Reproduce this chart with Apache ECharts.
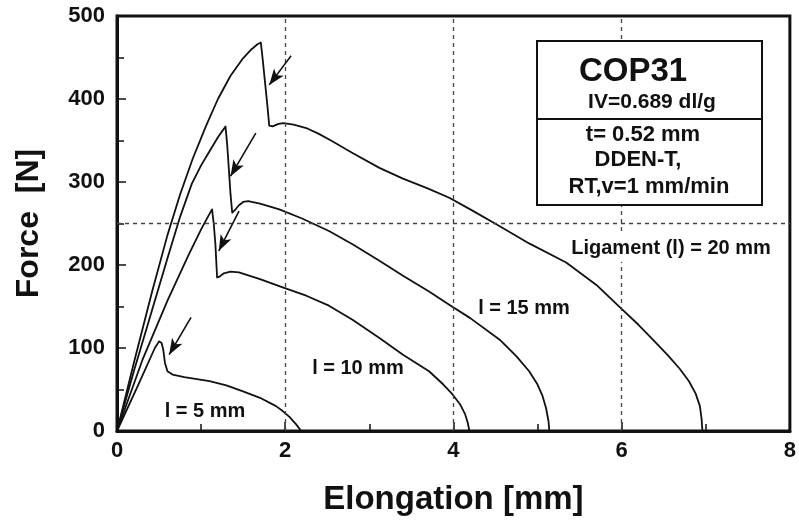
<!DOCTYPE html>
<html>
<head>
<meta charset="utf-8">
<script src="https://cdn.jsdelivr.net/npm/echarts@6/dist/echarts.min.js"></script>
<style>
  html, body { margin: 0; background: #fff; }
  #chart { width: 799px; height: 532px; }
</style>
</head>
<body>
<div id="chart"></div>
<script>
// force-elongation curves, [elongation mm, force N]
const curve5 = [[0,0],[0.25,55],[0.45,100],[0.5,108],[0.53,106],[0.55,98],[0.57,82],[0.6,72],[0.66,68],[0.8,65],[1.1,60],[1.3,55],[1.49,48],[1.7,40],[1.89,30],[1.97,24],[2.05,17],[2.13,8],[2.19,0]];
const curve10 = [[0,0],[0.3,85],[0.6,157],[0.85,212],[1.0,243],[1.08,258],[1.13,267],[1.15,250],[1.17,225],[1.18,205],[1.19,185],[1.22,186],[1.27,190],[1.35,192],[1.45,191],[1.7,183],[1.97,173],[2.25,163],[2.52,151],[2.8,134],[3.12,112],[3.4,92],[3.71,72],[3.88,56],[3.99,44],[4.08,32],[4.14,20],[4.17,10],[4.19,0]];
const curve15 = [[0,0],[0.2,72],[0.45,157],[0.6,208],[0.75,258],[0.89,298],[1.0,320],[1.1,337],[1.2,354],[1.27,364],[1.29,367],[1.31,345],[1.33,315],[1.35,285],[1.37,263],[1.4,266],[1.45,272],[1.5,276],[1.56,277],[1.7,274],[1.93,267],[2.2,256],[2.52,241],[2.8,225],[3.12,205],[3.4,187],[3.71,168],[3.95,152],[4.2,136],[4.55,110],[4.75,90],[4.9,72],[5.0,56],[5.06,42],[5.1,28],[5.13,12],[5.14,0]];
const curve20 = [[0,0],[0.2,82],[0.42,169],[0.6,236],[0.75,285],[0.9,328],[1.06,368],[1.2,400],[1.35,428],[1.49,448],[1.6,460],[1.67,466],[1.71,468],[1.73,450],[1.76,420],[1.79,390],[1.81,368],[1.85,367],[1.92,370],[1.98,371],[2.1,369],[2.25,365],[2.4,358],[2.56,349],[2.8,335],[3.12,317],[3.4,304],[3.7,292],[3.95,281],[4.2,267],[4.51,249],[4.9,226],[5.34,203],[5.7,176],[5.98,149],[6.2,128],[6.4,107],[6.55,91],[6.69,75],[6.8,60],[6.88,45],[6.93,30],[6.95,15],[6.96,0]];

// arrows marking crack initiation: [tail, head]
const arrows = [
  [[2.07,452],[1.81,417]],
  [[1.65,359],[1.35,307]],
  [[1.45,265],[1.21,217]],
  [[0.88,137],[0.62,92]]
];
const refX = [2, 4, 6];
const refY = [250];

const chart = echarts.init(document.getElementById('chart'));
const font = '"Liberation Sans", Arial, sans-serif';
const ink = '#111';

function curveSeries(name, data) {
  return {
    name: name,
    type: 'line',
    data: data,
    showSymbol: false,
    smooth: false,
    lineStyle: { color: ink, width: 1.8, join: 'round' },
    z: 3
  };
}

const dash = { color: '#444', type: [4, 4], width: 1.3 };
const series = [
  curveSeries('5', curve5),
  curveSeries('10', curve10),
  curveSeries('15', curve15),
  curveSeries('20', curve20)
];
series[3].markLine = {
  silent: true,
  animation: false,
  symbol: ['none', 'none'],
  label: { show: false },
  data: refX.map(v => ({ xAxis: v, lineStyle: dash }))
    .concat(refY.map(v => ({ yAxis: v, lineStyle: dash })))
    .concat(arrows.map(a => [
      { coord: a[0], lineStyle: { color: ink, type: 'solid', width: 1.6 } },
      { coord: a[1], symbol: 'arrow', symbolSize: [9, 16] }
    ]))
};

function label(text, x, y, size, weight, extra) {
  return {
    type: 'text', x: x, y: y, z: 12,
    style: Object.assign({
      text: text, align: 'center', verticalAlign: 'middle',
      font: weight + ' ' + size + 'px ' + font, fill: ink
    }, extra || {})
  };
}

chart.setOption({
  backgroundColor: '#fff',
  animation: false,
  grid: {
    left: 117, right: 6, top: 16, bottom: 101,
    show: true, borderColor: ink, borderWidth: 3
  },
  xAxis: {
    type: 'value', min: 0, max: 8, interval: 2,
    name: 'Elongation [mm]', nameLocation: 'middle', nameGap: 52,
    nameTextStyle: { fontFamily: font, fontWeight: 'bold', fontSize: 33, color: ink },
    axisLine: { lineStyle: { color: ink, width: 3 } },
    axisTick: { inside: true, length: 9, lineStyle: { color: ink, width: 1.5 } },
    minorTick: { show: true, splitNumber: 2, length: 7, lineStyle: { color: ink, width: 1.5 } },
    axisLabel: { fontFamily: font, fontWeight: 'bold', fontSize: 22, color: ink, margin: 9 },
    splitLine: { show: false }
  },
  yAxis: {
    type: 'value', min: 0, max: 500, interval: 100,
    name: 'Force  [N]', nameLocation: 'middle', nameGap: 72,
    nameTextStyle: { fontFamily: font, fontWeight: 'bold', fontSize: 32, color: ink },
    axisLine: { lineStyle: { color: ink, width: 3 } },
    axisTick: { inside: true, length: 9, lineStyle: { color: ink, width: 1.5 } },
    minorTick: { show: true, splitNumber: 2, length: 7, lineStyle: { color: ink, width: 1.5 } },
    axisLabel: { fontFamily: font, fontWeight: 'bold', fontSize: 22, color: ink, margin: 12 },
    splitLine: { show: false }
  },
  series: series,
  graphic: [
    label('l = 5 mm', 205, 411, 20, 'bold'),
    label('l = 10 mm', 358, 368, 20, 'bold'),
    label('l = 15 mm', 524, 308, 20, 'bold'),
    label('Ligament (l) = 20 mm', 671, 248, 20, 'bold', { backgroundColor: '#fff', padding: [4, 2] }),
    { type: 'rect', z: 10, shape: { x: 537, y: 41, width: 225, height: 164 }, style: { fill: '#fff', stroke: ink, lineWidth: 2 } },
    { type: 'line', z: 11, shape: { x1: 537, y1: 119, x2: 762, y2: 119 }, style: { stroke: ink, lineWidth: 2 } },
    label('COP31', 633, 72, 33, 'bold'),
    label('IV=0.689 dl/g', 652, 102, 21, 'bold'),
    label('t= 0.52 mm', 643, 135, 22, 'bold'),
    label('DDEN-T,', 638, 160, 22, 'bold'),
    label('RT,v=1 mm/min', 649, 187, 22, 'bold')
  ]
});
</script>
</body>
</html>
